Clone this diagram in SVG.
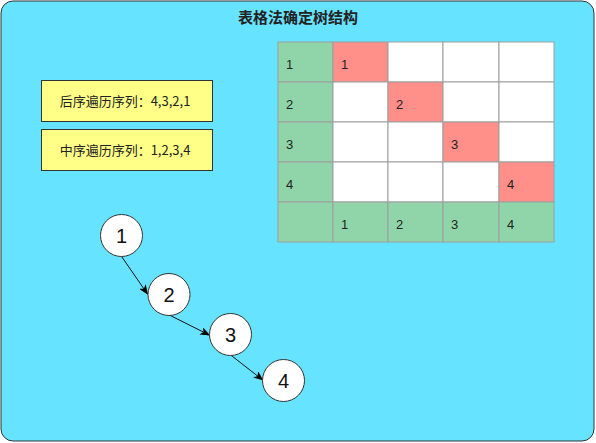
<svg xmlns="http://www.w3.org/2000/svg" width="596" height="443" viewBox="0 0 596 443">
<defs>
<marker id="arr" markerWidth="10" markerHeight="8" refX="9" refY="4" orient="auto" markerUnits="userSpaceOnUse">
<path d="M0,0 L10,4 L0,8 L2.5,4 Z" fill="#000"/>
</marker>
<style>
text{font-family:"Noto Sans CJK SC","Liberation Sans",sans-serif;fill:#222;}
.c{stroke:#9e9e9e;stroke-width:1;}
.g{fill:#90d5a9;}
.r{fill:#ff8f88;}
.w{fill:#ffffff;}
.t{font-family:"Liberation Sans","Noto Sans CJK SC",sans-serif;font-size:13px;}
.y{fill:#ffff88;stroke:#333;stroke-width:1;}
.n{fill:#fff;stroke:#333;stroke-width:1;}
.nt{font-family:"Liberation Sans",sans-serif;font-size:20px;text-anchor:middle;fill:#111;}
.e{stroke:#111;stroke-width:1;fill:none;marker-end:url(#arr);}
</style>
</defs>
<rect x="1" y="1" width="593" height="440" rx="12" fill="#66e3ff" stroke="#333" stroke-width="1"/>
<text x="298" y="23" font-size="15" font-weight="bold" text-anchor="middle">表格法确定树结构</text>
<g id="table">
<rect class="c g" x="278" y="42" width="55" height="40"/><rect class="c r" x="333" y="42" width="55" height="40"/><rect class="c w" x="388" y="42" width="55" height="40"/><rect class="c w" x="443" y="42" width="56" height="40"/><rect class="c w" x="499" y="42" width="55" height="40"/>
<rect class="c g" x="278" y="82" width="55" height="40"/><rect class="c w" x="333" y="82" width="55" height="40"/><rect class="c r" x="388" y="82" width="55" height="40"/><rect class="c w" x="443" y="82" width="56" height="40"/><rect class="c w" x="499" y="82" width="55" height="40"/>
<rect class="c g" x="278" y="122" width="55" height="40"/><rect class="c w" x="333" y="122" width="55" height="40"/><rect class="c w" x="388" y="122" width="55" height="40"/><rect class="c r" x="443" y="122" width="56" height="40"/><rect class="c w" x="499" y="122" width="55" height="40"/>
<rect class="c g" x="278" y="162" width="55" height="40"/><rect class="c w" x="333" y="162" width="55" height="40"/><rect class="c w" x="388" y="162" width="55" height="40"/><rect class="c w" x="443" y="162" width="56" height="40"/><rect class="c r" x="499" y="162" width="55" height="40"/>
<rect class="c g" x="278" y="202" width="55" height="40"/><rect class="c g" x="333" y="202" width="55" height="40"/><rect class="c g" x="388" y="202" width="55" height="40"/><rect class="c g" x="443" y="202" width="56" height="40"/><rect class="c g" x="499" y="202" width="55" height="40"/>
<text class="t" x="286" y="69">1</text><text class="t" x="341" y="69">1</text>
<text class="t" x="286" y="109">2</text><text class="t" x="396" y="109">2</text>
<text class="t" x="286" y="149">3</text><text class="t" x="451" y="149">3</text>
<text class="t" x="286" y="189">4</text><text class="t" x="507" y="189">4</text>
<text class="t" x="341" y="229">1</text><text class="t" x="396" y="229">2</text><text class="t" x="451" y="229">3</text><text class="t" x="507" y="229">4</text>
</g>
<g id="post">
<rect class="y" x="41.5" y="80.5" width="171" height="41"/>
<text x="125" y="105.5" font-size="13" text-anchor="middle">后序遍历序列：4,3,2,1</text>
</g>
<g id="in">
<rect class="y" x="41.5" y="129.5" width="171" height="41"/>
<text x="125" y="154.5" font-size="13" text-anchor="middle">中序遍历序列：1,2,3,4</text>
</g>
<g id="connectors">
<line class="e" x1="121.7" y1="256.7" x2="147.5" y2="294"/>
<line class="e" x1="169.3" y1="315" x2="209.3" y2="335"/>
<line class="e" x1="230.7" y1="355" x2="262.7" y2="380"/>
</g>
<g id="n1"><circle class="n" cx="121.5" cy="235.5" r="21"/><text class="nt" x="121.5" y="242.5">1</text></g>
<g id="n2"><circle class="n" cx="169" cy="294.5" r="21"/><text class="nt" x="169" y="301.5">2</text></g>
<g id="n3"><circle class="n" cx="230.5" cy="334.5" r="21"/><text class="nt" x="230.5" y="341.5">3</text></g>
<g id="n4"><circle class="n" cx="283.5" cy="380.5" r="21"/><text class="nt" x="283.5" y="387.5">4</text></g>
</svg>
